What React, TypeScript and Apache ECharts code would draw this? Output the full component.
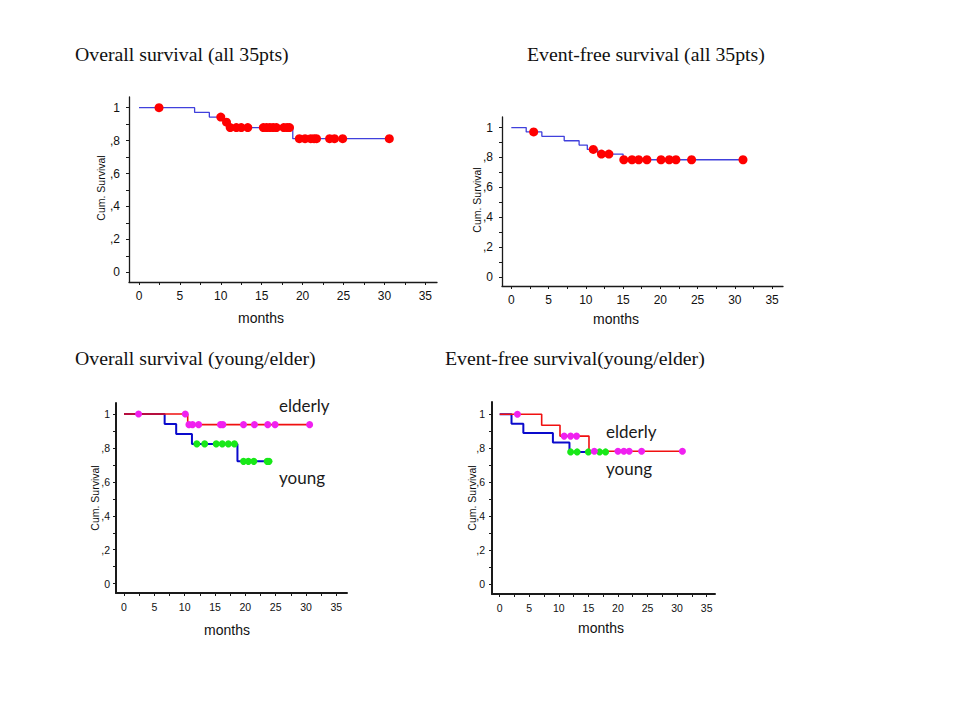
import React, { useEffect, useRef } from "react";
import * as echarts from "echarts";

// ---------- data ----------
const X_LABELS = [0, 5, 10, 15, 20, 25, 30, 35];
const X_TICKS = [0, 2.5, 5, 7.5, 10, 12.5, 15, 17.5, 20, 22.5, 25, 27.5, 30, 32.5, 35];
const Y_LABELS = [0, 0.2, 0.4, 0.6, 0.8, 1];
const Y_TICKS = [0, 0.1, 0.2, 0.3, 0.4, 0.5, 0.6, 0.7, 0.8, 0.9, 1];

const TITLES = [
  "Overall survival (all 35pts)",
  "Event-free survival (all 35pts)",
  "Overall survival (young/elder)",
  "Event-free survival(young/elder)",
];

// Panel 1: overall survival, all patients
const OS_ALL_EVENT_TIMES = [0, 6.8, 8.6, 10.4, 10.95, 18.8];
const OS_ALL_SURV = [1, 0.971, 0.943, 0.912, 0.879, 0.812];
const OS_ALL_END = 30.6;
const OS_ALL_CENSORED = [2.45, 10.0, 10.7, 11.15, 11.9, 12.5, 13.3, 15.2, 15.6, 16.0, 16.4, 16.8, 17.7, 18.1, 18.4, 19.6, 20.3, 21.0, 21.4, 21.7, 23.3, 23.9, 24.9, 30.6];

// Panel 2: event-free survival, all patients
const EFS_ALL_EVENT_TIMES = [0, 2.0, 4.1, 7.1, 9.1, 10.2, 11.6, 15.0];
const EFS_ALL_SURV = [1, 0.971, 0.942, 0.912, 0.883, 0.854, 0.823, 0.785];
const EFS_ALL_END = 31.1;
const EFS_ALL_CENSORED = [3.0, 11.0, 12.1, 13.1, 15.1, 16.2, 17.1, 18.2, 20.1, 21.2, 22.1, 24.2, 31.1];

// Panel 3: overall survival by age
const OS_ELD_EVENT_TIMES = [0, 10.5];
const OS_ELD_SURV = [1, 0.9375];
const OS_ELD_END = 30.6;
const OS_ELD_CENSORED = [2.4, 10.1, 10.7, 11.3, 12.3, 15.9, 16.3, 19.7, 21.5, 23.7, 24.9, 30.6];
const OS_YNG_EVENT_TIMES = [0, 6.7, 8.6, 11.2, 18.7];
const OS_YNG_SURV = [1, 0.941, 0.882, 0.824, 0.721];
const OS_YNG_END = 23.9;
const OS_YNG_CENSORED = [12.0, 13.3, 15.2, 16.2, 17.2, 18.2, 19.7, 20.5, 21.4, 23.6, 23.9];

// Panel 4: event-free survival by age
const EFS_ELD_EVENT_TIMES = [0, 7.1, 10.2, 15.1];
const EFS_ELD_SURV = [1, 0.935, 0.871, 0.782];
const EFS_ELD_END = 30.9;
const EFS_ELD_CENSORED = [3.0, 10.9, 12.0, 13.0, 16.0, 20.0, 21.0, 21.9, 24.0, 30.9];
const EFS_YNG_EVENT_TIMES = [0, 2.0, 4.0, 9.0, 11.8];
const EFS_YNG_SURV = [1, 0.944, 0.889, 0.833, 0.778];
const EFS_YNG_END = 18.0;
const EFS_YNG_CENSORED = [12.0, 13.1, 15.0, 16.9, 17.9];

// ---------- helpers ----------
function stepLine(times: number[], surv: number[], end: number) {
  const d = times.map((t, i) => [t, surv[i]]);
  d.push([end, surv[surv.length - 1]]);
  return d;
}
function survAt(times: number[], surv: number[], t: number) {
  let v = surv[0];
  for (let i = 0; i < times.length; i++) if (times[i] <= t) v = surv[i];
  return v;
}
function censorPts(times: number[], surv: number[], cens: number[]) {
  return cens.map((t) => [t, survAt(times, surv, t)]);
}
const yFmt = (v: number) => {
  const r = Math.round(v * 10);
  if (r === 0) return "0";
  if (r === 10) return "1";
  return "," + r;
};

const SANS = "Liberation Sans";
const AXIS_COLOR = "#1a1a1a";
const TEXT_COLOR = "#111";

const GRIDS = [
  { left: 129, top: 97, width: 308, height: 185, xmin: -1.22, xmax: 36.43, ymin: -0.059, ymax: 1.065, lw: 1.3, fs: 12, ym: 9 },
  { left: 502, top: 117, width: 281, height: 169, xmin: -1.25, xmax: 36.47, ymin: -0.06, ymax: 1.071, lw: 1.3, fs: 12, ym: 9 },
  { left: 116, top: 403, width: 231, height: 190, xmin: -1.32, xmax: 36.76, ymin: -0.055, ymax: 1.065, lw: 2, fs: 10.5, ym: 6 },
  { left: 492, top: 402, width: 223, height: 192, xmin: -1.3, xmax: 36.41, ymin: -0.059, ymax: 1.072, lw: 2, fs: 10.5, ym: 7 },
];

const TITLE_POS = [
  [75, 54],
  [527, 54],
  [75, 358],
  [445, 358],
];
const YNAME_POS = [
  [101, 188],
  [476.5, 200],
  [95, 498],
  [471.5, 498],
];
const XNAME_POS = [
  [261, 318],
  [616, 319],
  [227, 630],
  [601, 628],
];

export default function App() {
  const ref = useRef<HTMLDivElement>(null);
  useEffect(() => {
    if (!ref.current) return;
    const chart = echarts.init(ref.current, undefined, { renderer: "svg" });

    const xAxis = GRIDS.map((g, i) => ({
      type: "value",
      gridIndex: i,
      min: g.xmin,
      max: g.xmax,
      axisLine: { show: true, onZero: false, lineStyle: { color: AXIS_COLOR, width: g.lw } },
      axisTick: { show: true, customValues: X_TICKS, length: 3, lineStyle: { color: AXIS_COLOR, width: 1 } },
      axisLabel: { customValues: X_LABELS, fontSize: g.fs, fontFamily: SANS, color: TEXT_COLOR, margin: 8 },
      splitLine: { show: false },
    }));
    const yAxis = GRIDS.map((g, i) => ({
      type: "value",
      gridIndex: i,
      min: g.ymin,
      max: g.ymax,
      axisLine: { show: true, onZero: false, lineStyle: { color: AXIS_COLOR, width: g.lw } },
      axisTick: { show: true, customValues: Y_TICKS, length: 3, lineStyle: { color: AXIS_COLOR, width: 1 } },
      axisLabel: { customValues: Y_LABELS, fontSize: g.fs, fontFamily: SANS, color: TEXT_COLOR, margin: g.ym, formatter: yFmt },
      splitLine: { show: false },
    }));

    const line = (i: number, data: number[][], color: string, width: number, z = 2) => ({
      type: "line",
      xAxisIndex: i,
      yAxisIndex: i,
      step: "end",
      data,
      showSymbol: false,
      symbol: "none",
      lineStyle: { color, width },
      z,
      silent: true,
    });
    const scatter = (i: number, data: number[][], color: string, size: number, z = 5) => ({
      type: "scatter",
      xAxisIndex: i,
      yAxisIndex: i,
      data,
      symbol: "circle",
      symbolSize: size,
      itemStyle: { color, opacity: 1 },
      z,
      silent: true,
    });

    const series = [
      line(0, stepLine(OS_ALL_EVENT_TIMES, OS_ALL_SURV, OS_ALL_END), "#4040dc", 1.3),
      scatter(0, censorPts(OS_ALL_EVENT_TIMES, OS_ALL_SURV, OS_ALL_CENSORED), "#ff0000", 9),
      line(1, stepLine(EFS_ALL_EVENT_TIMES, EFS_ALL_SURV, EFS_ALL_END), "#4040dc", 1.3),
      scatter(1, censorPts(EFS_ALL_EVENT_TIMES, EFS_ALL_SURV, EFS_ALL_CENSORED), "#ff0000", 9),
      line(2, stepLine(OS_YNG_EVENT_TIMES, OS_YNG_SURV, OS_YNG_END), "#0a0acc", 2, 2),
      line(2, stepLine(OS_ELD_EVENT_TIMES, OS_ELD_SURV, OS_ELD_END), "#f01010", 1.6, 3),
      scatter(2, censorPts(OS_YNG_EVENT_TIMES, OS_YNG_SURV, OS_YNG_CENSORED), "#18e818", 7, 5),
      scatter(2, censorPts(OS_ELD_EVENT_TIMES, OS_ELD_SURV, OS_ELD_CENSORED), "#f020f0", 7, 6),
      line(3, stepLine(EFS_YNG_EVENT_TIMES, EFS_YNG_SURV, EFS_YNG_END), "#0a0acc", 2, 2),
      line(3, stepLine(EFS_ELD_EVENT_TIMES, EFS_ELD_SURV, EFS_ELD_END), "#f01010", 1.6, 3),
      scatter(3, censorPts(EFS_YNG_EVENT_TIMES, EFS_YNG_SURV, EFS_YNG_CENSORED), "#18e818", 7, 5),
      scatter(3, censorPts(EFS_ELD_EVENT_TIMES, EFS_ELD_SURV, EFS_ELD_CENSORED), "#f020f0", 7, 6),
    ];

    const graphic: any[] = [];
    TITLES.forEach((t, i) => {
      graphic.push({
        type: "text",
        x: TITLE_POS[i][0],
        y: TITLE_POS[i][1],
        silent: true,
        style: { text: t, font: '19.8px "Liberation Serif"', fill: "#111", align: "left", verticalAlign: "middle" },
      });
      graphic.push({
        type: "text",
        x: YNAME_POS[i][0],
        y: YNAME_POS[i][1],
        rotation: Math.PI / 2,
        silent: true,
        style: { text: "Cum. Survival", font: `10.5px "${SANS}"`, fill: TEXT_COLOR, align: "center", verticalAlign: "middle" },
      });
      graphic.push({
        type: "text",
        x: XNAME_POS[i][0],
        y: XNAME_POS[i][1],
        silent: true,
        style: { text: "months", font: `14px "${SANS}"`, fill: TEXT_COLOR, align: "center", verticalAlign: "middle" },
      });
    });
    const groupLabels = [
      ["elderly", 279, 405],
      ["young", 279, 477],
      ["elderly", 606, 431],
      ["young", 606, 468],
    ];
    groupLabels.forEach(([t, x, y]) => {
      graphic.push({
        type: "text",
        x,
        y,
        silent: true,
        style: { text: t, font: '17px "Lato"', fill: "#1a1a1a", align: "left", verticalAlign: "middle" },
      });
    });

    chart.setOption({
      animation: false,
      backgroundColor: "#ffffff",
      grid: GRIDS.map((g) => ({ left: g.left, top: g.top, width: g.width, height: g.height, containLabel: false })),
      xAxis,
      yAxis,
      series,
      graphic,
    });
    return () => chart.dispose();
  }, []);
  return (
    <div
      ref={ref}
      style={{ position: "absolute", left: 0, top: 0, width: 960, height: 720, background: "#fff" }}
    />
  );
}
